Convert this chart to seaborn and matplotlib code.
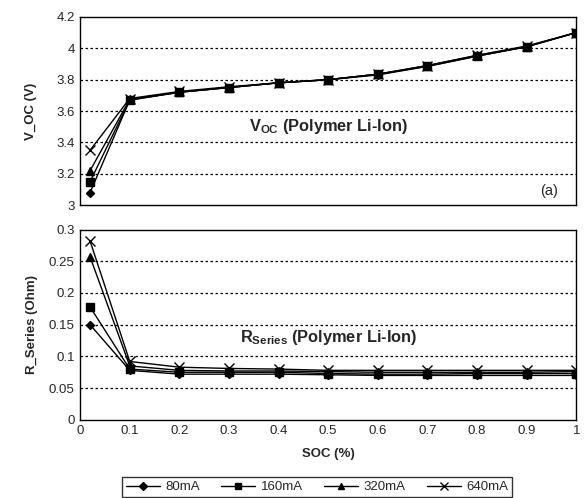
import numpy as np
import pandas as pd
import matplotlib
matplotlib.use("Agg")
import matplotlib.pyplot as plt
import seaborn as sns

soc = [0.02, 0.1, 0.2, 0.3, 0.4, 0.5, 0.6, 0.7, 0.8, 0.9, 1.0]
series = ["80mA", "160mA", "320mA", "640mA"]

voc_80 = [3.08, 3.67, 3.72, 3.75, 3.78, 3.80, 3.83, 3.885, 3.95, 4.01, 4.10]
voc_160 = [3.15, 3.67, 3.72, 3.75, 3.78, 3.80, 3.835, 3.885, 3.95, 4.01, 4.10]
voc_320 = [3.22, 3.675, 3.72, 3.75, 3.78, 3.80, 3.835, 3.89, 3.955, 4.01, 4.10]
voc_640 = [3.35, 3.68, 3.725, 3.755, 3.78, 3.80, 3.835, 3.89, 3.955, 4.015, 4.10]

r_80 = [0.150, 0.078, 0.072, 0.072, 0.072, 0.071, 0.070, 0.070, 0.070, 0.070, 0.070]
r_160 = [0.178, 0.080, 0.075, 0.075, 0.075, 0.073, 0.072, 0.072, 0.073, 0.073, 0.073]
r_320 = [0.257, 0.085, 0.078, 0.077, 0.077, 0.076, 0.075, 0.075, 0.075, 0.075, 0.076]
r_640 = [0.282, 0.092, 0.083, 0.081, 0.080, 0.078, 0.078, 0.078, 0.078, 0.078, 0.078]

voc_ticks = [3.0, 3.2, 3.4, 3.6, 3.8, 4.0, 4.2]
voc_ticklabels = ["3", "3.2", "3.4", "3.6", "3.8", "4", "4.2"]
r_ticks = [0, 0.05, 0.1, 0.15, 0.2, 0.25, 0.3]
r_ticklabels = ["0", "0.05", "0.1", "0.15", "0.2", "0.25", "0.3"]
x_ticks = [0, 0.1, 0.2, 0.3, 0.4, 0.5, 0.6, 0.7, 0.8, 0.9, 1.0]
x_ticklabels = ["0", "0.1", "0.2", "0.3", "0.4", "0.5", "0.6", "0.7", "0.8", "0.9", "1"]

voc_data = {"80mA": voc_80, "160mA": voc_160, "320mA": voc_320, "640mA": voc_640}
r_data = {"80mA": r_80, "160mA": r_160, "320mA": r_320, "640mA": r_640}

sns.set_style("white")
plt.rcParams["font.family"] = ["Liberation Sans", "DejaVu Sans"]
plt.rcParams["mathtext.fontset"] = "custom"
plt.rcParams["mathtext.rm"] = "Liberation Sans"
plt.rcParams["mathtext.bf"] = "Liberation Sans:bold"

fig = plt.figure(figsize=(5.85, 4.98), dpi=100)
ax1 = fig.add_axes([0.137, 0.588, 0.848, 0.378])
ax2 = fig.add_axes([0.137, 0.157, 0.848, 0.382])

markers = {"80mA": "D", "160mA": "s", "320mA": "^", "640mA": "x"}
msizes = {"80mA": 4.5, "160mA": 5.5, "320mA": 6, "640mA": 7}

for ax, data in ((ax1, voc_data), (ax2, r_data)):
    for s in series:
        df = pd.DataFrame({"SOC": soc, "value": data[s]})
        sns.lineplot(data=df, x="SOC", y="value", ax=ax, color="black",
                     marker=markers[s], markersize=msizes[s],
                     markeredgewidth=1.0, markeredgecolor="black",
                     markerfacecolor="black", linewidth=1.0, label=s)
    ax.set_xlim(0, 1)
    for sp in ax.spines.values():
        sp.set_color("black")
        sp.set_linewidth(1.0)
    ax.tick_params(axis="x", direction="in", length=3, color="black")
    ax.tick_params(axis="y", length=0, labelsize=9.5, pad=4)
    ax.tick_params(axis="x", labelsize=9.5)
    ax.set_xticks(x_ticks)

ax1.get_legend().remove()
ax1.set_ylim(3.0, 4.2)
ax1.set_yticks(voc_ticks)
ax1.set_yticklabels(voc_ticklabels)
ax1.set_xticklabels([])
ax1.set_xlabel("")
ax1.set_ylabel("V_OC (V)", fontsize=9.5, fontweight="bold", labelpad=14)
for t in voc_ticks[1:-1]:
    ax1.axhline(t, color="black", linestyle=(0, (2, 2)), linewidth=0.9, zorder=0)
ax1.text(0.5, 3.5, r"V$_{\mathbf{OC}}$ (Polymer Li-Ion)", fontsize=11.8,
         fontweight="bold", ha="center", va="center")
ax1.text(0.945, 3.09, "(a)", fontsize=10.5, ha="center", va="center")

ax2.set_ylim(0, 0.3)
ax2.set_yticks(r_ticks)
ax2.set_yticklabels(r_ticklabels)
ax2.set_xticklabels(x_ticklabels)
ax2.set_xlabel("SOC (%)", fontsize=9.5, fontweight="bold", labelpad=8)
ax2.set_ylabel("R_Series (Ohm)", fontsize=9.5, fontweight="bold", labelpad=8)
for t in r_ticks[1:-1]:
    ax2.axhline(t, color="black", linestyle=(0, (2, 2)), linewidth=0.9, zorder=0)
ax2.text(0.5, 0.13, r"R$_{\mathbf{Series}}$ (Polymer Li-Ion)", fontsize=11.8,
         fontweight="bold", ha="center", va="center")

handles, labels = ax2.get_legend_handles_labels()
ax2.get_legend().remove()
leg = fig.legend(handles, labels, loc="center", bbox_to_anchor=(0.542, 0.022),
                 ncol=4, frameon=True, fancybox=False, edgecolor="black",
                 fontsize=9.5, handlelength=2.6, columnspacing=1.6,
                 handletextpad=0.4, borderpad=0.3, markerscale=0.8)
leg.get_frame().set_linewidth(1.0)

fig.savefig("out.png", dpi=100)
